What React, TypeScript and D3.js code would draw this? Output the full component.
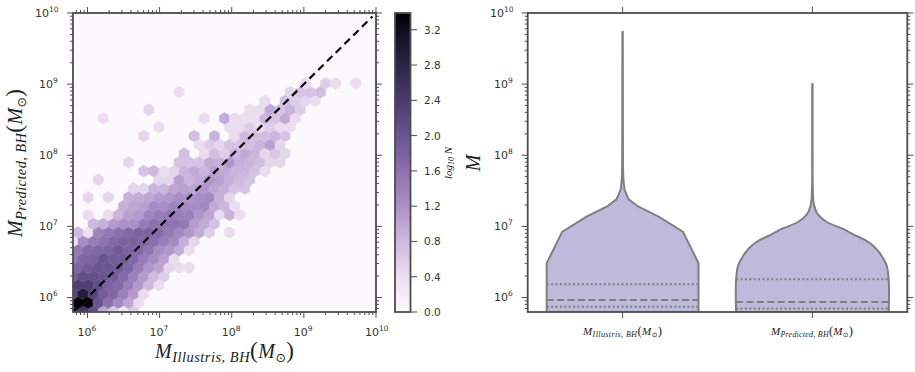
import React from 'react';
import * as d3 from 'd3';

const width = 915;
const height = 372;
const INK = '#333333';
const SPINE = '#4d4d4d';

// log10(N + 1) per hexbin row, bottom row first. 0 means an empty cell.
const hexRowIndex = [-1, 0, 1, 2, 3, 4, 5, 6, 7, 8, 9, 10, 11, 12, 13, 14, 15, 16, 17, 18, 19, 20, 21, 22, 23, 24, 25];
const hexRowStart = [-1, 0, -1, 0, -1, 0, -1, 0, -1, 0, -1, 0, 4, 1, 5, 2, 6, 5, 10, 12, 6, 8, 2, 7, 18, 10, 22];
const hexRowValues = [
  [2.5, 2.5, 2.1, 1.0, 0.65, 0.25, 0.6],
  [3.39, 3.3, 2.0, 1.6, 1.3, 1.0, 0.42],
  [2.25, 2.9, 2.25, 1.9, 1.75, 1.4, 1.1, 0.42],
  [2.35, 2.35, 2.1, 1.8, 1.7, 1.4, 1.1, 0.8, 0.42],
  [1.9, 2.1, 2.1, 2.0, 1.9, 1.7, 1.4, 1.1, 0.8, 0.6],
  [1.75, 1.9, 2.0, 2.0, 1.9, 1.75, 1.45, 1.15, 1.0, 0.5, 0.42, 0.42],
  [1.5, 1.75, 1.8, 2.0, 1.9, 1.9, 1.7, 1.45, 1.25, 1.05, 0.42],
  [1.5, 1.7, 1.75, 1.8, 1.9, 1.8, 1.75, 1.55, 1.25, 1.15, 0.95, 0.42],
  [0.35, 1.25, 1.45, 1.55, 1.7, 1.8, 1.8, 1.75, 1.65, 1.45, 1.3, 0.9, 0.5],
  [0.8, 0.35, 1.35, 1.5, 1.6, 1.7, 1.8, 1.8, 1.7, 1.5, 1.3, 1.15, 0.95, 0.6, 0, 0.42],
  [0, 0, 0.8, 0.9, 1.1, 1.2, 1.2, 1.45, 1.6, 1.55, 1.55, 1.5, 1.1, 0.95, 0.7],
  [0, 0.42, 0, 0.42, 0.85, 1.05, 1.1, 1.35, 1.45, 1.5, 1.45, 1.4, 1.15, 1.0, 0.42, 0.85, 0.42],
  [0.9, 1.0, 1.05, 1.25, 1.25, 1.35, 1.3, 1.25, 1.3, 0.95, 0.85, 0.42],
  [0.5, 0, 0.5, 0, 0.9, 0.95, 1.0, 1.1, 1.15, 1.25, 1.2, 1.25, 1.3, 0.9, 0.5],
  [0.5, 0.5, 0.85, 0.85, 1.0, 1.05, 1.0, 1.15, 1.0, 0.9, 0.7, 0.7],
  [0.5, 0, 0, 0, 0, 0, 0.5, 0.5, 1.05, 0.85, 0.95, 1.15, 1.05, 0.9, 0.8, 0.7],
  [0.7, 0.8, 0.42, 0.5, 0.85, 0.95, 0.85, 1.05, 0.95, 0.85, 0.85, 0.7, 0.42],
  [0.5, 0, 0, 0, 0, 0.7, 0.7, 0.7, 0.95, 0.9, 1.15, 0.9, 0.85, 0.75, 0.5, 0.5],
  [0.75, 0, 0.42, 0.75, 0.6, 0.85, 0.95, 0.85, 0.5, 0.65, 0.5],
  [0.42, 0.6, 0.5, 0.7, 0.7, 0.75, 0.85, 1.05, 0.5],
  [0.5, 0, 0, 0, 0, 0.75, 0, 0.85, 0, 0.42, 0.8, 0.75, 0.75, 0.85, 0.7],
  [0.42, 0, 0, 0, 0, 0, 0, 0.42, 0.42, 0.6, 0.42, 0.6, 0.42, 0.42],
  [0.42, 0, 0, 0, 0, 0, 0, 0, 0, 0, 0.42, 0, 0.95, 0.42, 0.42, 0.42, 0.85, 0.7, 0.95, 0.42],
  [0.5, 0, 0, 0, 0, 0, 0, 0, 0, 0, 0.42, 0.42, 0.95, 0.7, 0.85, 0.6],
  [0.42, 0, 0.75, 0.6, 0.5, 0.42],
  [0.42, 0, 0, 0, 0, 0, 0, 0, 0, 0, 0, 0.5, 0.7, 0.7, 0.75],
  [0.42, 0, 0.6, 0.42, 0, 0.42],
];

// hexbin lattice, in decades
const hexOriginX = 5.8683;
const hexOriginY = 5.927;
const hexStepX = 0.1401;
const hexStepY = 0.12335;

const colorStops = [0, 0.4, 0.8, 1.2, 1.6, 2.0, 2.4, 2.8, 3.2, 3.39];
const colorValues = ['#fcf9fd', '#ecdff0', '#cfb9e0', '#ad90c8', '#8d70ae', '#6a5590', '#4a3b70', '#2b2548', '#0f0d1c', '#000000'];
const colorbarTicks = [0, 0.4, 0.8, 1.2, 1.6, 2.0, 2.4, 2.8, 3.2];

const decadeTicks = [1e6, 1e7, 1e8, 1e9, 1e10];

const illustrisMass = [6.2e5, 3.03e6, 8.4e6, 1.37e7, 1.89e7, 2.4e7, 3.25e7, 4.5e7, 7.3e7, 5.47e9];
const illustrisWidth = [0.4, 0.4, 0.318, 0.19, 0.084, 0.032, 0.0105, 0.0042, 0.002, 0.001];
const illustrisQuartiles = [7.4e5, 9.2e5, 1.53e6];

const predictedMass = [6.2e5, 1.8e6, 2.87e6, 4.27e6, 5.35e6, 6.44e6, 7.74e6, 9.2e6, 1.16e7, 1.53e7, 2.11e7, 3.6e7, 1.0e8, 1.0e9];
const predictedWidth = [0.402, 0.402, 0.39, 0.353, 0.32, 0.276, 0.215, 0.162, 0.074, 0.025, 0.007, 0.002, 0.0012, 0.001];
const predictedQuartiles = [7e5, 8.65e5, 1.8e6];

const violinNames = ['Illustris, BH', 'Predicted, BH'];

const xHex = d3.scaleLog().domain([10 ** 5.799, 1e10]).range([73, 376]);
const yHex = d3.scaleLog().domain([10 ** 5.796, 1e10]).range([312, 13]);
const yViolin = d3.scaleLog().domain([10 ** 5.796, 1e10]).range([312, 13]);
const xViolin = d3.scaleLinear().domain([-0.5, 1.5]).range([527.7, 907.3]);
const yBar = d3.scaleLinear().domain([0, 3.39]).range([312, 13]);
const color = d3.scaleLinear<string>().domain(colorStops).range(colorValues).clamp(true);

const hexPath = (col: number, row: number) => {
  const cx = hexOriginX + (col + (row & 1 ? 0.5 : 0)) * hexStepX;
  const cy = hexOriginY + row * hexStepY;
  const corners = [[0, 2], [1, 1], [1, -1], [0, -2], [-1, -1], [-1, 1]];
  const line = d3.line<number[]>()
    .x((c) => xHex(10 ** (cx + (c[0] * hexStepX) / 2)))
    .y((c) => yHex(10 ** (cy + (c[1] * hexStepY) / 3)));
  return line(corners) + 'Z';
};

const minorTicks = (scale: d3.ScaleLogarithmic<number, number>) =>
  scale.ticks().filter((t) => !decadeTicks.includes(t));

const PowerLabel = ({ x, y, value }: { x: number; y: number; value: number }) => (
  <text x={x} y={y} fontFamily="DejaVu Sans" fontSize={11} fill={INK}>
    10
    <tspan dy={-5} fontSize={7.5}>{Math.round(Math.log10(value))}</tspan>
  </text>
);

const MassLabel = ({ x, y, sub, size, rotate, fit }: any) => (
  <text
    x={x}
    y={y}
    transform={rotate ? `rotate(-90 ${x} ${y})` : undefined}
    fontFamily="Liberation Serif"
    fontSize={size}
    fill="#222"
    textLength={fit}
    lengthAdjust="spacing"
  >
    <tspan fontStyle="italic">M</tspan>
    <tspan fontStyle="italic" fontSize={size * 0.72} dy={size * 0.2}>{sub}</tspan>
    <tspan fontSize={size * 1.15} dy={-size * 0.2}>(</tspan>
    <tspan fontStyle="italic">M</tspan>
    <tspan fontFamily="DejaVu Sans" fontSize={size * 0.62} dy={size * 0.2}>{'\u2299'}</tspan>
    <tspan fontSize={size * 1.15} dy={-size * 0.2}>)</tspan>
  </text>
);

// tick marks drawn on both sides of a vertical log axis
const YTicks = ({ scale, left, right }: any) => (
  <g stroke={SPINE} strokeWidth={1}>
    {decadeTicks.map((t) => (
      <g key={t}>
        <line x1={left - 6} x2={left} y1={scale(t)} y2={scale(t)} />
        <line x1={right} x2={right + 6} y1={scale(t)} y2={scale(t)} />
      </g>
    ))}
    {minorTicks(scale).map((t: number) => (
      <g key={t}>
        <line x1={left - 3} x2={left} y1={scale(t)} y2={scale(t)} />
        <line x1={right} x2={right + 3} y1={scale(t)} y2={scale(t)} />
      </g>
    ))}
  </g>
);

const Violin = ({ index, mass, widths, quartiles, curve }: any) => {
  const center = xViolin(index);
  const area = d3.area<number>()
    .y((m) => yViolin(m))
    .x0((_, i) => xViolin(index - widths[i]))
    .x1((_, i) => xViolin(index + widths[i]))
    .curve(curve);
  const [lo, med, hi] = quartiles;
  const half = xViolin(index + widths[0]) - center;
  return (
    <g>
      <path d={area(mass) as string} fill="#bcbbdb" stroke="#7f7f7f" strokeWidth={2} strokeLinejoin="round" />
      {[lo, hi].map((q: number) => (
        <line key={q} x1={center - half} x2={center + half} y1={yViolin(q)} y2={yViolin(q)}
          stroke="#7f7f7f" strokeWidth={2} strokeDasharray="2 2.4" />
      ))}
      <line x1={center - half} x2={center + half} y1={yViolin(med)} y2={yViolin(med)}
        stroke="#7f7f7f" strokeWidth={2} strokeDasharray="7 3.4" />
    </g>
  );
};

export default function App() {
  const cells = hexRowValues.flatMap((values, r) =>
    values.map((v, k) => ({ row: hexRowIndex[r], col: hexRowStart[r] + k, v })).filter((c) => c.v > 0),
  );
  const [x0, x1] = xHex.range();
  const [y1, y0] = yHex.range();

  return (
    <svg width={width} height={height} style={{ position: 'absolute', left: 0, top: 0, background: '#fff' }}>
      <defs>
        <clipPath id="hexClip">
          <rect x={x0} y={y0} width={x1 - x0} height={y1 - y0} />
        </clipPath>
        <clipPath id="violinClip">
          <rect x={527.7} y={y0} width={379.6} height={y1 - y0} />
        </clipPath>
        <linearGradient id="barFill" x1="0" y1="1" x2="0" y2="0">
          {colorStops.map((s, i) => (
            <stop key={s} offset={s / 3.39} stopColor={colorValues[i]} />
          ))}
        </linearGradient>
      </defs>

      {/* hexbin panel */}
      <rect x={x0} y={y0} width={x1 - x0} height={y1 - y0} fill={color(0)} />
      <g clipPath="url(#hexClip)">
        {cells.map((c) => (
          <path key={`${c.row}-${c.col}`} d={hexPath(c.col, c.row)} fill={color(c.v)} stroke={color(c.v)} strokeWidth={0.5} />
        ))}
        <line
          x1={xHex(10 ** 5.799)}
          y1={yHex(10 ** 5.799)}
          x2={xHex(10 ** 9.95)}
          y2={yHex(10 ** 9.95)}
          stroke="#000"
          strokeWidth={2.2}
          strokeDasharray="7.5 4.8"
        />
      </g>
      <rect x={x0} y={y0} width={x1 - x0} height={y1 - y0} fill="none" stroke={SPINE} strokeWidth={1.8} />
      <YTicks scale={yHex} left={x0} right={x1} />
      <g stroke={SPINE} strokeWidth={1}>
        {decadeTicks.map((t) => (
          <g key={t}>
            <line x1={xHex(t)} x2={xHex(t)} y1={y1} y2={y1 + 6} />
            <line x1={xHex(t)} x2={xHex(t)} y1={y0 - 6} y2={y0} />
          </g>
        ))}
        {minorTicks(xHex).map((t) => (
          <g key={t}>
            <line x1={xHex(t)} x2={xHex(t)} y1={y1} y2={y1 + 3} />
            <line x1={xHex(t)} x2={xHex(t)} y1={y0 - 3} y2={y0} />
          </g>
        ))}
      </g>
      {decadeTicks.map((t) => (
        <PowerLabel key={t} x={xHex(t) - (t === 1e10 ? 11 : 10)} y={336} value={t} />
      ))}
      {decadeTicks.map((t) => (
        <PowerLabel key={t} x={t === 1e10 ? 35 : 39} y={yHex(t) + 4} value={t} />
      ))}
      <MassLabel x={155} y={358} sub="Illustris, BH" size={20} fit={139} />
      <MassLabel x={21.5} y={237} sub="Predicted, BH" size={20} rotate fit={148} />

      {/* colorbar */}
      <rect x={395} y={y0} width={15.5} height={y1 - y0} fill="url(#barFill)" stroke={SPINE} strokeWidth={1.8} />
      {colorbarTicks.map((t) => (
        <g key={t}>
          <line x1={410.5} x2={417} y1={yBar(t)} y2={yBar(t)} stroke={SPINE} strokeWidth={1} />
          <text x={424} y={yBar(t) + 4} fontFamily="DejaVu Sans" fontSize={10.5} fill={INK}>{t.toFixed(1)}</text>
        </g>
      ))}
      <text
        transform="translate(452,163) rotate(-90)"
        textAnchor="middle"
        fontFamily="Liberation Serif"
        fontSize={11}
        fontStyle="italic"
        fill="#222"
      >
        log<tspan fontSize={8} dy={2}>10</tspan><tspan dy={-2}> N</tspan>
      </text>

      {/* violin panel */}
      <g clipPath="url(#violinClip)">
        <Violin index={0} mass={illustrisMass} widths={illustrisWidth} quartiles={illustrisQuartiles} curve={d3.curveLinear} />
        <Violin index={1} mass={predictedMass} widths={predictedWidth} quartiles={predictedQuartiles} curve={d3.curveCatmullRom} />
      </g>
      <rect x={527.7} y={y0} width={379.6} height={y1 - y0} fill="none" stroke={SPINE} strokeWidth={1.8} />
      <YTicks scale={yViolin} left={527.7} right={907.3} />
      {[0, 1].map((i) => (
        <g key={i} stroke={SPINE} strokeWidth={1}>
          <line x1={xViolin(i)} x2={xViolin(i)} y1={y1} y2={y1 + 6} />
          <line x1={xViolin(i)} x2={xViolin(i)} y1={y0 - 6} y2={y0} />
        </g>
      ))}
      {decadeTicks.map((t) => (
        <PowerLabel key={t} x={t === 1e10 ? 490 : 494} y={yViolin(t) + 4} value={t} />
      ))}
      <MassLabel x={583} y={335} sub={violinNames[0]} size={11} fit={79} />
      <MassLabel x={771} y={335} sub={violinNames[1]} size={11} fit={82} />
      <text
        transform="translate(480,163) rotate(-90)"
        textAnchor="middle"
        fontFamily="Liberation Serif"
        fontSize={20}
        fontStyle="italic"
        fill="#222"
      >
        M
      </text>
    </svg>
  );
}
